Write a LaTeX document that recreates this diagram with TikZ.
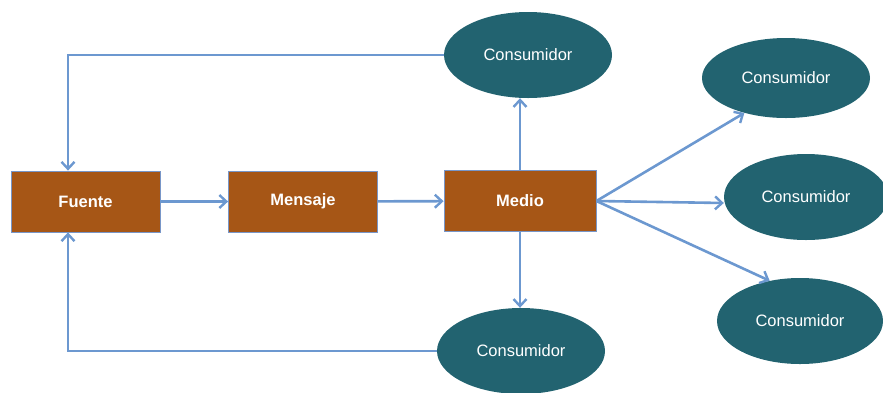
\documentclass[tikz,border=0pt]{standalone}
\usepackage{fontspec}
\setmainfont{Liberation Sans}
\usetikzlibrary{shapes.geometric,arrows.meta}
\definecolor{boxbrown}{RGB}{166,86,22}
\definecolor{boxedge}{RGB}{120,150,200}
\definecolor{consteal}{RGB}{34,99,112}
\definecolor{flowblue}{RGB}{108,152,208}
\tikzset{
  stagebox/.style={draw=boxedge, line width=0.8pt, fill=boxbrown, minimum width=149pt, minimum height=61pt, text=white, font=\fontsize{16.5}{19}\selectfont\bfseries, inner sep=0pt},
  consumer/.style={ellipse, fill=consteal, minimum width=168pt, minimum height=86pt, text=white, font=\fontsize{16.5}{19}\selectfont, inner sep=0pt},
  flow/.style={draw=flowblue, line width=2.6pt, -{Straight Barb[length=7pt,width=13pt,line width=2.4pt]}}
}
\begin{document}
\begin{tikzpicture}[x=1pt,y=-1pt]
\useasboundingbox (0,0) rectangle (883,392);
% stages of the chain
\node[stagebox] (fuente) at (85.5,201.5) {Fuente};
\node[stagebox] (mensaje) at (303,201.5) {Mensaje};
\node[stagebox, minimum width=152pt] (medio) at (520,201) {Medio};
% consumers
\node[consumer] (ctop) at (528,55) {Consumidor};
\node[consumer, minimum height=80pt] (cr1) at (786,78) {Consumidor};
\node[consumer, minimum width=164pt] (cr2) at (806,197) {Consumidor};
\node[consumer, minimum width=166pt] (cr3) at (800,321) {Consumidor};
\node[consumer] (cbot) at (521,351) {Consumidor};
% main flow
\draw[flow] (fuente) -- (mensaje);
\draw[flow] (mensaje) -- (medio);
\draw[flow] (medio.north) -- (medio.north |- ctop.south);
\draw[flow] (medio.south) -- (medio.south |- cbot.north);
\draw[flow] (medio.east) -- (cr1.220);
\draw[flow] (medio.east) -- ([yshift=-2pt]medio.east -| cr2.west);
\draw[flow] (medio.east) -- (cr3.127);
% feedback loops to the source
\coordinate (fbtop) at (68,55);
\coordinate (fbbot) at (68,351);
\draw[flow] (ctop.west) -- (fbtop) -- (fbtop |- fuente.north);
\draw[flow] (cbot.west) -- (fbbot) -- (fbbot |- fuente.south);
\end{tikzpicture}
\end{document}
